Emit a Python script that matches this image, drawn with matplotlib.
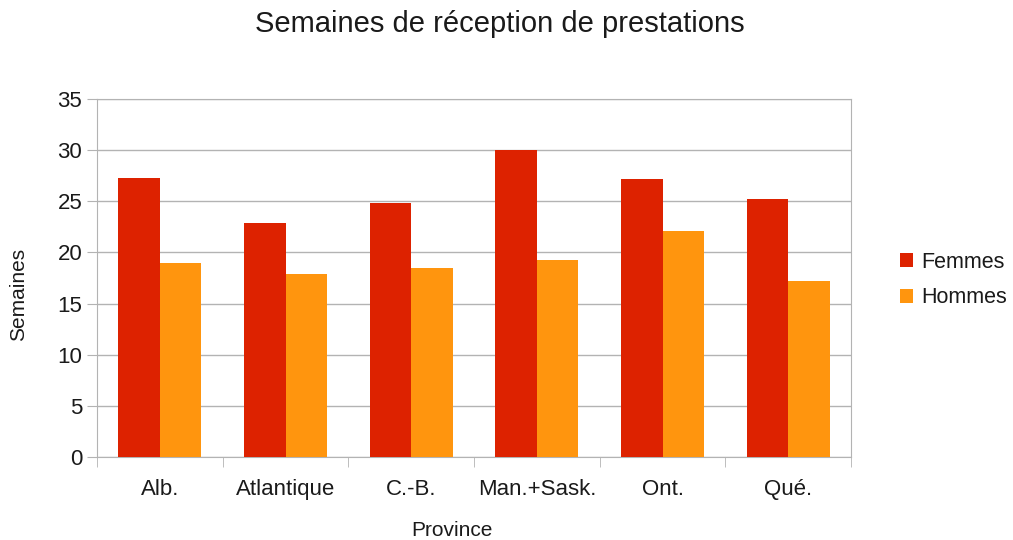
import matplotlib
matplotlib.use("Agg")
import matplotlib.pyplot as plt
import numpy as np

plt.rcParams['font.family'] = ['Liberation Sans', 'DejaVu Sans']

categories = ["Alb.", "Atlantique", "C.-B.", "Man.+Sask.", "Ont.", "Qué."]
femmes = [27.3, 22.9, 24.8, 30.0, 27.2, 25.2]
hommes = [19.0, 17.9, 18.5, 19.3, 22.1, 17.2]
yticks = [0, 5, 10, 15, 20, 25, 30, 35]

W, H = 1013, 540
fig = plt.figure(figsize=(W/100, H/100), dpi=100)
ax = fig.add_axes([97/W, 1-457/H, (851-97)/W, (457-99)/H])

x = np.arange(len(categories))
w = 0.33
grid_c = '#b3b3b3'
ax.bar(x - w/2, femmes, width=w, color='#dd2200', label='Femmes', zorder=3)
ax.bar(x + w/2, hommes, width=w, color='#ff950e', label='Hommes', zorder=3)

ax.set_xlim(-0.5, len(categories) - 0.5)
ax.set_ylim(0, 35)
ax.set_yticks(yticks)
ax.set_yticklabels([str(v) for v in yticks], fontsize=16, color='#1a1a1a')
ax.yaxis.grid(True, color=grid_c, linewidth=1, zorder=0)
ax.set_xticks(x)
ax.set_xticklabels(categories, fontsize=16, color='#1a1a1a')
ax.tick_params(axis='x', length=0, pad=16)
ax.set_xticks(np.arange(-0.5, len(categories)), minor=True)
ax.tick_params(axis='x', which='minor', length=7, color=grid_c)
ax.tick_params(axis='y', length=7, color=grid_c, pad=3.6)
for s in ax.spines.values():
    s.set_color(grid_c)

fig.text(19/W, 1-294/H, 'Semaines', rotation=90, ha='center', va='center',
         fontsize=15, color='#1a1a1a')
fig.text(452/W, 1-530/H, 'Province', ha='center', va='center',
         fontsize=15, color='#1a1a1a')
fig.text(500/W, 1-24/H, 'Semaines de réception de prestations', ha='center',
         va='center', fontsize=21, color='#1a1a1a')

leg = ax.legend(loc='center left', bbox_to_anchor=(900/W, 1-280/H),
                bbox_transform=fig.transFigure, frameon=False,
                fontsize=15.5, handlelength=0.6, handleheight=0.6,
                labelspacing=0.68, handletextpad=0.4, borderpad=0,
                borderaxespad=0)
for t in leg.get_texts():
    t.set_color('#1a1a1a')

fig.savefig('out.png', dpi=100)
